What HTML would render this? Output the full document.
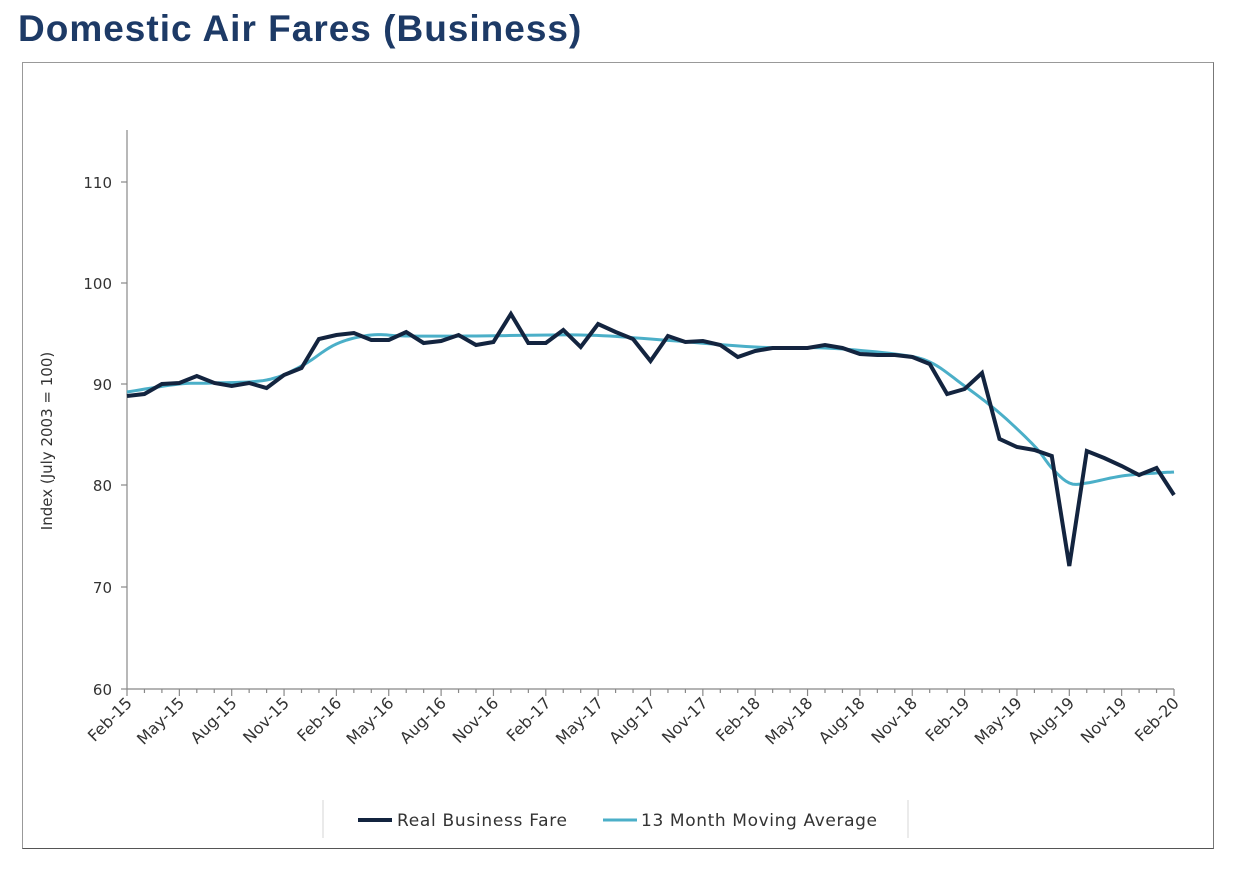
<!DOCTYPE html>
<html><head><style>
body{margin:0;background:#fff;width:1240px;height:872px;overflow:hidden;font-family:"Liberation Sans",sans-serif}
h1{position:absolute;left:18px;top:8px;margin:0;font-size:37px;font-weight:bold;color:#1d3a66;font-family:"Liberation Sans",sans-serif;letter-spacing:1px}
.box{position:absolute;left:22px;top:62px;width:1190px;height:785px;border:1px solid #999;border-right-color:#777;border-bottom-color:#555}
</style></head><body>
<h1>Domestic Air Fares (Business)</h1>
<div class="box"></div>
<svg width="1240" height="872" style="position:absolute;left:0;top:0" font-family="DejaVu Sans, Liberation Sans, sans-serif" font-size="15" fill="#333">
<g stroke="#888" stroke-width="1.2">
<line x1="127" y1="130" x2="127" y2="689"/>
<line x1="127" y1="689" x2="1174" y2="689"/>
<line x1="121" y1="182" x2="127" y2="182"/><line x1="121" y1="283" x2="127" y2="283"/><line x1="121" y1="384" x2="127" y2="384"/><line x1="121" y1="485" x2="127" y2="485"/><line x1="121" y1="587" x2="127" y2="587"/><line x1="121" y1="689" x2="127" y2="689"/>
<line x1="323" y1="800" x2="323" y2="838" stroke="#ddd"/><line x1="908" y1="800" x2="908" y2="838" stroke="#ddd"/>
</g>
<g id="xt" stroke="#888" stroke-width="1.2"></g>
<g text-anchor="end">
<text x="112" y="188">110</text><text x="112" y="289">100</text><text x="112" y="390">90</text><text x="112" y="491">80</text><text x="112" y="593">70</text><text x="112" y="695">60</text>
</g>
<text transform="translate(52,441) rotate(-90)" text-anchor="middle">Index (July 2003 = 100)</text>
<g id="xl" text-anchor="end" font-size="16"></g>
<polyline id="ma" fill="none" stroke="#4bafc8" stroke-width="3" stroke-linejoin="round"/>
<polyline id="rf" fill="none" stroke="#13243f" stroke-width="4" stroke-linejoin="miter"/>
<line x1="358" y1="820" x2="392" y2="820" stroke="#13243f" stroke-width="4"/>
<text x="397" y="826" font-size="17" textLength="170">Real Business Fare</text>
<line x1="603" y1="820" x2="637" y2="820" stroke="#4bafc8" stroke-width="3"/>
<text x="641" y="826" font-size="17" textLength="236">13 Month Moving Average</text>
</svg>
<script>
var dx=(1174-127)/60,X=i=>127+i*dx;
var rf=[396,394,384,383,376,383,386,383,388,375,368,339,335,333,340,340,332,343,341,335,345,342,314,343,343,330,347,324,332,339,361,336,342,341,345,357,351,348,348,348,345,348,354,355,355,357,364,394,389,373,439,447,450,456,566,451,458,466,475,468,495];
document.getElementById('rf').setAttribute('points',rf.map((y,i)=>X(i).toFixed(1)+','+y).join(' '));
var k=[[0,392],[3,384],[5,383],[8,380],[10,366],[12,344],[14,335],[16,336],[20,336],[26,335],[30,339],[36,347],[40,348],[44,354],[46,362],[48,386],[50,413],[52,446],[53,468],[54,483],[55,483],[57,476],[59,473],[60,472]];
var p=[];for(var j=0;j<k.length-1;j++){var a=k[Math.max(0,j-1)],b=k[j],c=k[j+1],d=k[Math.min(k.length-1,j+2)];for(var t=0;t<1;t+=0.1){var t2=t*t,t3=t2*t;var f=(p0,p1,p2,p3)=>0.5*(2*p1+(-p0+p2)*t+(2*p0-5*p1+4*p2-p3)*t2+(-p0+3*p1-3*p2+p3)*t3);p.push(X(f(a[0],b[0],c[0],d[0])).toFixed(1)+','+f(a[1],b[1],c[1],d[1]).toFixed(1));}}
p.push(X(60)+',472');document.getElementById('ma').setAttribute('points',p.join(' '));
var m=['Feb','May','Aug','Nov'],xt='',xl='';
for(var i=0;i<=60;i++){xt+='<line x1="'+X(i)+'" y1="689" x2="'+X(i)+'" y2="'+(i%3==0?696:693)+'"/>';}
for(var i=0;i<=20;i++){var x=X(i*3);var lab=m[i%4]+'-'+(15+Math.floor(i/4));xl+='<text transform="translate('+(x+6)+',704) rotate(-45)">'+lab+'</text>';}
document.getElementById('xt').innerHTML=xt;document.getElementById('xl').innerHTML=xl;
</script>
</body></html>
